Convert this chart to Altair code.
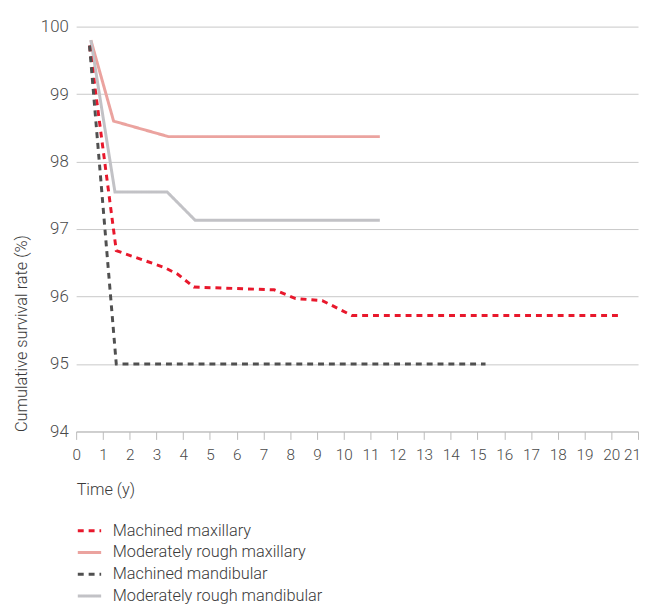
import altair as alt
import pandas as pd

series_names = ["Machined maxillary", "Moderately rough maxillary",
                "Machined mandibular", "Moderately rough mandibular"]
colors = ["#e8182c", "#eba39f", "#505050", "#c2c2c6"]

mmax_t = [0.5, 1.5, 3.3, 3.8, 4.4, 7.4, 8.2, 9.2, 10.3, 20.4]
mmax_v = [99.72, 96.68, 96.43, 96.33, 96.14, 96.1, 95.97, 95.94, 95.72, 95.72]

rmax_t = [0.55, 1.4, 3.45, 11.35]
rmax_v = [99.8, 98.6, 98.37, 98.37]

mman_t = [0.5, 1.5, 15.3]
mman_v = [99.72, 95.0, 95.0]

rman_t = [0.55, 1.45, 3.4, 4.45, 11.35]
rman_v = [99.8, 97.55, 97.55, 97.13, 97.13]

x_ticks = list(range(0, 22))
y_ticks = [94, 95, 96, 97, 98, 99, 100]

rows = []
for name, ts, vs in [(series_names[0], mmax_t, mmax_v),
                     (series_names[1], rmax_t, rmax_v),
                     (series_names[2], mman_t, mman_v),
                     (series_names[3], rman_t, rman_v)]:
    for i, (t, v) in enumerate(zip(ts, vs)):
        rows.append({"series": name, "t": t, "v": v, "i": i})
df = pd.DataFrame(rows)

FONT = "Roboto"
TXT = "#3a3a3a"

legend = alt.Legend(title=None, orient="none", legendX=0, legendY=497,
                    symbolType="stroke", symbolSize=560, symbolStrokeWidth=3,
                    labelFontSize=16.5, labelFont=FONT, labelColor=TXT,
                    labelFontWeight=300, rowPadding=0, labelOffset=10, labelLimit=400)

color = alt.Color("series:N", scale=alt.Scale(domain=series_names, range=colors), legend=legend)
dash = alt.StrokeDash("series:N",
                      scale=alt.Scale(domain=series_names, range=[[6, 5], [1, 0], [6, 5], [1, 0]]),
                      legend=legend)

x = alt.X("t:Q", scale=alt.Scale(domain=[0, 21], nice=False, zero=False),
          axis=alt.Axis(values=x_ticks, title="Time (y)", grid=False, titleAnchor="start",
                        titleAlign="left", titleFont=FONT, titleFontWeight=300, titleFontSize=16.5,
                        titleColor=TXT, titlePadding=19, labelFont=FONT, labelFontWeight=300,
                        labelFontSize=15.5, labelColor="#4a4a4a", labelPadding=8, tickSize=8,
                        tickColor="#bbbbbb", domainColor="#bbbbbb", labelFlush=False,
                        labelOffset={"condition": {"test": "datum.value == 21", "value": -6}, "value": 0}))
y = alt.Y("v:Q", scale=alt.Scale(domain=[94, 100], nice=False, zero=False),
          axis=alt.Axis(values=y_ticks, title="Cumulative survival rate (%)", grid=True,
                        gridColor="#c8c8c8", domain=False, ticks=False, titleAnchor="start",
                        titleFont=FONT, titleFontWeight=300, titleFontSize=16.5, titleColor=TXT,
                        titlePadding=11, labelFont=FONT, labelFontWeight=300, labelFontSize=17,
                        labelColor="#4a4a4a", labelPadding=8))

base = alt.Chart(df).encode(x=x, y=y, color=color, strokeDash=dash, order="i:Q")
solid = base.transform_filter(
    alt.FieldOneOfPredicate(field="series", oneOf=[series_names[1], series_names[3]])
).mark_line(strokeWidth=3)
dashed = base.transform_filter(
    alt.FieldOneOfPredicate(field="series", oneOf=[series_names[0], series_names[2]])
).mark_line(strokeWidth=3)

chart = alt.layer(solid, dashed).properties(
    width=569, height=410,
    autosize=alt.AutoSizeParams(type="none"),
    padding={"left": 69, "top": 15, "right": 3, "bottom": 185},
).configure_view(stroke=None)

chart.save("out.html", embed_options={"renderer": "svg", "actions": False})
